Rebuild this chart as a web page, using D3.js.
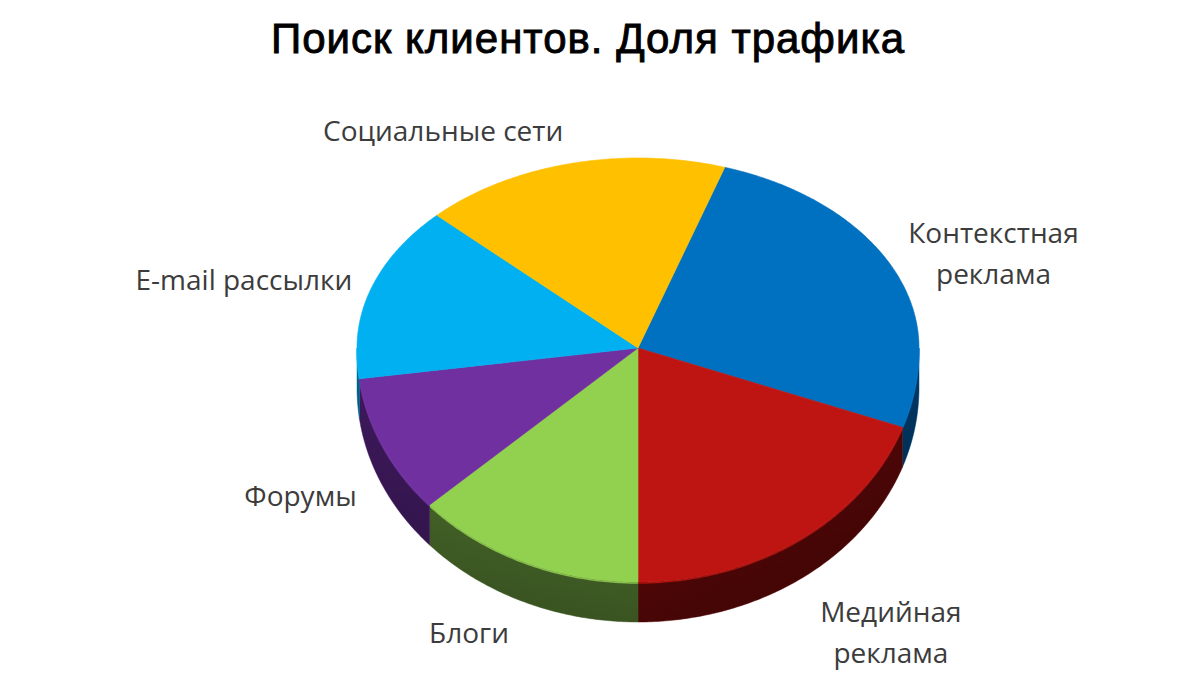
<!DOCTYPE html>
<html>
<head>
<meta charset="utf-8">
<script src="https://cdn.jsdelivr.net/npm/d3@7"></script>
<style>
body { margin:0; background:#fff; }
</style>
</head>
<body>
<div id="figure"></div>
<script>

var categories = ["Контекстная реклама", "Медийная реклама", "Блоги", "Форумы", "E-mail рассылки", "Социальные сети"];
var shares = [25.5, 19.5, 13.3, 9.6, 14.4, 17.7];
var labelLines = [["Контекстная", "реклама"], ["Медийная", "реклама"], ["Блоги"], ["Форумы"], ["E-mail рассылки"], ["Социальные сети"]];
var topColors = ["#0070c0", "#be1512", "#92d050", "#7030a0", "#00b0f0", "#ffc000"];
var sideColors = ["#00457e", "#5a0707", "#48692a", "#461c68", "#0079a8", "#b38600"];

// label placement: distance out from the rim, then a small nudge
var labelDist = [20, 55, 37, 29, 20, 31];
var labelNudge = [[0, 0], [-11, 10], [0, 0], [0, 0], [0, 0], [0, 0]];

var W = 1200, H = 675;
var cx = 638, cy = 348, rx = 281, ryTop = 190, ryBot = 234, depth = 40;
var fs = 28, lineH = 41;

var svg = d3.select("#figure").append("svg")
	.attr("width", W).attr("height", H);

// point on the (tilted) rim, angle clockwise from top
function pt(a, dy) {
	var c = Math.cos(a);
	var ry = c >= 0 ? ryTop : ryBot;
	return [cx + rx * Math.sin(a), cy - ry * c + (dy || 0)];
}
function arcPts(a0, a1, dy) {
	var n = Math.max(2, Math.ceil(Math.abs(a1 - a0) / 0.01));
	var out = [];
	for (var i = 0; i <= n; i++) out.push(pt(a0 + (a1 - a0) * i / n, dy));
	return out;
}

var start = 18 * Math.PI / 180;
var pie = d3.pie().sort(null).startAngle(start).endAngle(start + 2 * Math.PI);
var arcs = pie(shares);
var line = d3.line();

var defs = svg.append("defs");
arcs.forEach(function(d, i) {
	var g = defs.append("linearGradient")
		.attr("id", "side" + i)
		.attr("gradientUnits", "userSpaceOnUse")
		.attr("x1", cx - rx).attr("x2", cx + rx)
		.attr("y1", 0).attr("y2", 0);
	var base = d3.color(sideColors[i]);
	g.append("stop").attr("offset", 0).attr("stop-color", base.darker(0.35));
	g.append("stop").attr("offset", 0.5).attr("stop-color", base);
	g.append("stop").attr("offset", 1).attr("stop-color", base.darker(0.5));
});
// vertical shade on the walls
var vs = defs.append("linearGradient")
	.attr("id", "wallshade")
	.attr("x1", 0).attr("x2", 0).attr("y1", 0).attr("y2", 1);
vs.append("stop").attr("offset", 0).attr("stop-color", "#000").attr("stop-opacity", 0);
vs.append("stop").attr("offset", 1).attr("stop-color", "#000").attr("stop-opacity", 0.2);

// side walls (front half only)
var sides = svg.append("g");
arcs.forEach(function(d, i) {
	var s = Math.max(d.startAngle, Math.PI / 2);
	var e = Math.min(d.endAngle, 3 * Math.PI / 2);
	if (e <= s) return;
	var pts = arcPts(s, e, 0).concat(arcPts(e, s, depth));
	sides.append("path")
		.attr("d", line(pts) + "Z")
		.attr("fill", "url(#side" + i + ")")
		.attr("stroke", sideColors[i])
		.attr("stroke-width", 0.5);
	sides.append("path")
		.attr("d", line(pts) + "Z")
		.attr("fill", "url(#wallshade)");
	// light rim
	sides.append("path")
		.attr("d", line(arcPts(s, e, 1)))
		.attr("fill", "none")
		.attr("stroke", d3.color(topColors[i]).brighter(0.6))
		.attr("stroke-width", 1.5)
		.attr("opacity", 0.6);
});

// top faces
var tops = svg.append("g");
arcs.forEach(function(d, i) {
	var pts = [[cx, cy]].concat(arcPts(d.startAngle, d.endAngle, 0));
	tops.append("path")
		.attr("class", "slice")
		.attr("d", line(pts) + "Z")
		.attr("fill", topColors[i])
		.attr("stroke", topColors[i])
		.attr("stroke-width", 0.6)
		.attr("stroke-linejoin", "round");
});

// labels
var labels = svg.append("g")
	.attr("font-family", "'Open Sans', 'Noto Sans', sans-serif")
	.attr("font-size", fs + "px")
	.attr("fill", "#3c3c3c");

arcs.forEach(function(d, i) {
	var mid = (d.startAngle + d.endAngle) / 2;
	var sn = Math.sin(mid), cs = Math.cos(mid);
	var edge = pt(mid, cs < 0 ? depth : 0);
	var lx = edge[0] + labelDist[i] * sn + labelNudge[i][0];
	var ly = edge[1] - labelDist[i] * cs + labelNudge[i][1];
	var lines = labelLines[i];
	var t = labels.append("text").attr("text-anchor", "middle");
	var spans = lines.map(function(s, k) {
		return t.append("tspan").text(s)
			.attr("y", ly - (lines.length - 1) * lineH / 2 + k * lineH + 0.35 * 22);
	});
	var wmax = d3.max(spans, function(sp) { return sp.node().getComputedTextLength(); });
	var x = sn > 0.1 ? lx + wmax / 2 : (sn < -0.1 ? lx - wmax / 2 : lx);
	spans.forEach(function(sp) { sp.attr("x", x); });
});

// title
svg.append("text")
	.attr("x", 588)
	.attr("y", 53)
	.attr("text-anchor", "middle")
	.attr("font-family", "'Liberation Sans', Arial, sans-serif")
	.attr("font-size", "42px")
	.attr("letter-spacing", "1px")
	.attr("fill", "#000")
	.attr("stroke", "#000")
	.attr("stroke-width", 0.9)
	.text("Поиск клиентов. Доля трафика");

</script>
</body>
</html>
